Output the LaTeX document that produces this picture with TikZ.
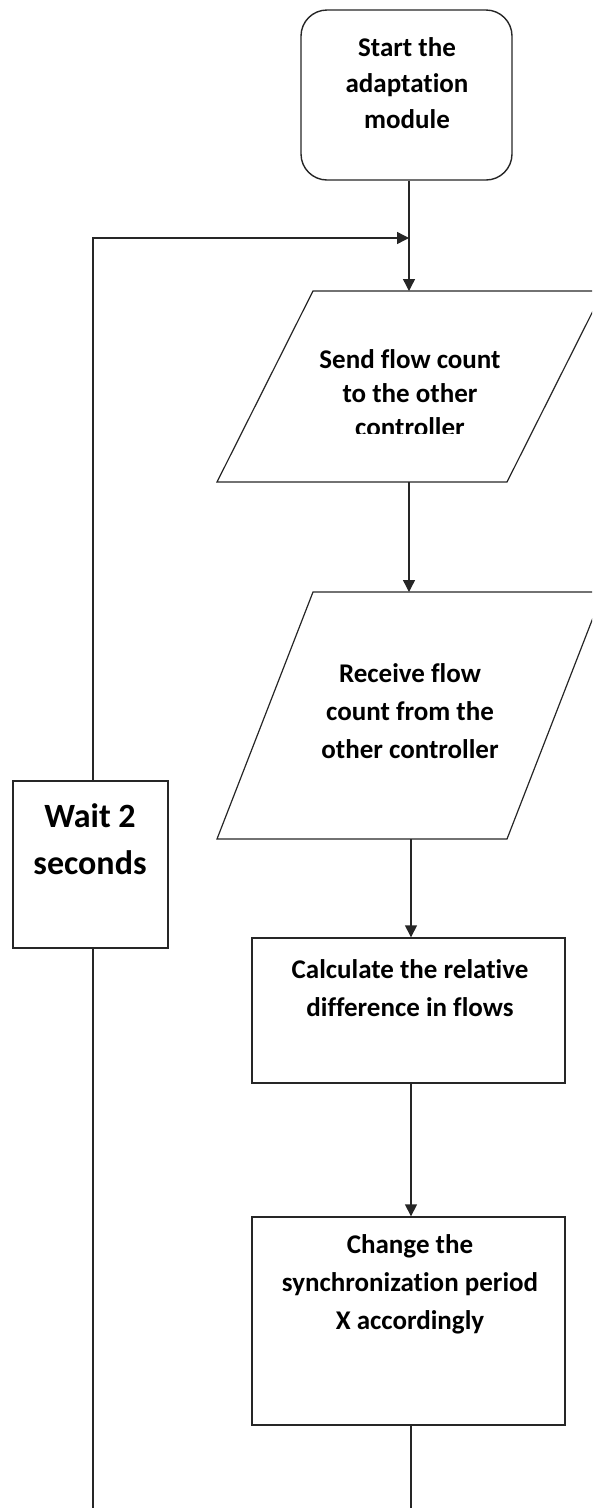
\documentclass[tikz,border=0pt]{standalone}
\usepackage{fontspec}
\setmainfont{Carlito}[Ligatures=NoCommon]
\usetikzlibrary{arrows.meta}
\tikzset{
  line/.style={line width=1.4pt, draw=black!85},
  arr/.style={line, -{Triangle[length=12pt,width=12pt]}},
  box/.style={line, rectangle, inner sep=0pt},
  txt/.style={align=center, font=\bfseries\fontsize{27}{38}\selectfont, inner sep=0pt},
  bigtxt/.style={align=center, font=\bfseries\fontsize{34}{47}\selectfont, inner sep=0pt},
}
\begin{document}
\begin{tikzpicture}[x=1pt, y=-1pt]
\useasboundingbox (0,0) rectangle (592,1508);
\clip (0,0) rectangle (592,1508);

% terminal
\node[box, rounded corners=26pt, minimum width=211pt, minimum height=170pt] (start) at (406.5,95) {};
\node[txt, font=\bfseries\fontsize{27}{36}\selectfont] (startT) at (407,83) {Start the\\adaptation\\module};

% send (input/output parallelogram)
\coordinate (p1t) at (409,291);
\coordinate (p1b) at (409,482);
\draw[line, line width=1.2pt] (313,291) -- (603,291) -- (507,482) -- (217,482) -- cycle;
\begin{scope}
  \clip (0,0) rectangle (592,433);
  \node[txt, font=\bfseries\fontsize{27}{34}\selectfont] (sendT) at (410,393) {Send flow count\\to the other\\controller};
\end{scope}

% receive (input/output parallelogram)
\coordinate (p2t) at (409,592);
\coordinate (p2b) at (411,839);
\draw[line, line width=1.2pt] (313,592) -- (603,592) -- (507,839) -- (217,839) -- cycle;
\node[txt] (recvT) at (410,711) {Receive flow\\count from the\\other controller};

% processes
\node[box, minimum width=313pt, minimum height=145pt] (calc) at (408.5,1010.5) {};
\node[txt] (calcT) at (410,988) {Calculate the relative\\difference in flows};

\node[box, minimum width=313pt, minimum height=208pt] (change) at (408.5,1321) {};
\node[txt] (changeT) at (410,1284) {Change the\\synchronization period\\X accordingly};

\node[box, minimum width=155pt, minimum height=167pt] (wait) at (90.5,864.5) {};
\node[bigtxt] (waitT) at (90,839) {Wait 2\\seconds};

% connectors
\coordinate (join) at (409,238);
\coordinate (endL) at (93,1508);
\coordinate (endR) at (411,1508);
\draw[arr] (start.south -| p1t) -- (p1t);
\draw[arr] (wait.north -| endL) |- (join);
\draw[arr] (p1b) -- (p2t);
\draw[arr] (p2b) -- (calc.north -| p2b);
\draw[arr] (calc.south -| p2b) -- (change.north -| p2b);
\draw[line] (change.south -| endR) -- (endR);
\draw[line] (wait.south -| endL) -- (endL);
\end{tikzpicture}
\end{document}
